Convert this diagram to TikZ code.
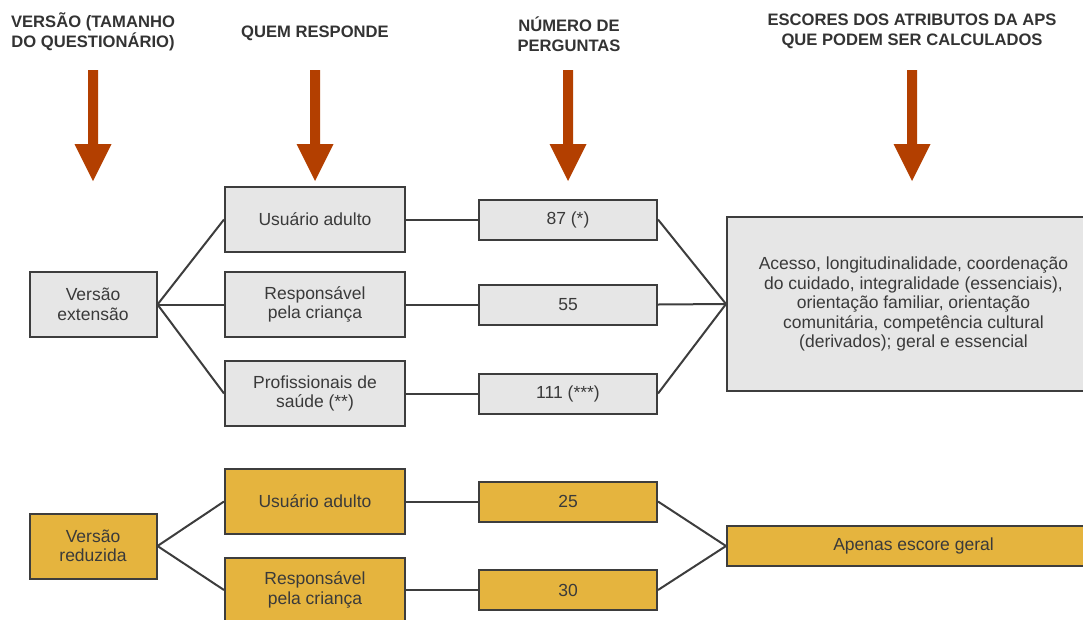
\documentclass[tikz,border=0pt]{standalone}
\usepackage{fontspec}
\setmainfont{Liberation Sans}
\definecolor{boxgray}{HTML}{E6E6E6}
\definecolor{boxyellow}{HTML}{E5B43E}
\definecolor{edgecol}{HTML}{3D3D3D}
\definecolor{rust}{HTML}{B33F00}
\definecolor{txtcol}{HTML}{3A3A3A}
\definecolor{headcol}{HTML}{333333}
\begin{document}
\begin{tikzpicture}[x=1pt,y=-1pt,
  basebox/.style={draw=edgecol, line width=2pt, text=txtcol, align=center, inner sep=0pt,
    font=\fontsize{17.5}{19.5}\selectfont},
  gbox/.style={basebox, fill=boxgray},
  ybox/.style={basebox, fill=boxyellow},
  vbox/.style={minimum width=127pt, minimum height=65pt},
  rbox/.style={minimum width=180pt, minimum height=65pt},
  nbox/.style={minimum width=178pt, minimum height=40pt},
  heading/.style={text=headcol, align=center, font=\bfseries\fontsize{16.6}{20}\selectfont},
  link/.style={draw=edgecol, line width=2pt},
  bigarrow/.style={fill=rust}
]
\useasboundingbox (0,0) rectangle (1083,619);
\clip (0,0) rectangle (1083,619);

% headings
\node[heading] (h1) at (93,32) {VERSÃO (TAMANHO\\DO QUESTIONÁRIO)};
\node[heading] (h2) at (315,33) {QUEM RESPONDE};
\node[heading] (h3) at (569,34) {NÚMERO DE\\PERGUNTAS};
\node[heading] (h4) at (912,31) {ESCORES DOS ATRIBUTOS DA APS\\QUE PODEM SER CALCULADOS};

% arrows
\foreach \ax in {93,315,568,912}{
  \fill[bigarrow] (\ax-5,70) -- (\ax+5,70) -- (\ax+5,144) -- (\ax+18.5,144) -- (\ax,181)
    -- (\ax-18.5,144) -- (\ax-5,144) -- cycle;
}

% extended version
\node[gbox,vbox] (vext) at (93,304.5) {Versão\\extensão};
\node[gbox,rbox] (u1) at (315,219.5) {Usuário adulto};
\node[gbox,rbox] (r1) at (315,304.5) {Responsável\\pela criança};
\node[gbox,rbox] (p1) at (315,393.5) {Profissionais de\\saúde (**)};
\node[gbox,nbox] (n87) at (568,219.5) {87 (*)};
\node[gbox,nbox] (n55) at (568,304.5) {55};
\node[gbox,nbox] (n111) at (568,393.5) {111 (***)};
\node[gbox,minimum width=373pt,minimum height=174pt] (big) at (913.5,304)
  {\raisebox{4pt}{\parbox{360pt}{\centering Acesso, longitudinalidade, coordenação\\do cuidado, integralidade (essenciais),\\orientação familiar, orientação\\comunitária, competência cultural\\(derivados); geral e essencial}}};

% reduced version
\node[ybox,vbox] (vred) at (93,546) {Versão\\reduzida};
\node[ybox,rbox] (u2) at (315,501.5) {Usuário adulto};
\node[ybox,rbox] (r2) at (315,590) {Responsável\\pela criança};
\node[ybox,nbox] (n25) at (568,501.5) {25};
\node[ybox,nbox] (n30) at (568,590) {30};
\node[ybox,minimum width=373pt,minimum height=40pt] (geral) at (913.5,546) {Apenas escore geral};

% connectors
\draw[link] (vext.east) -- (u1.west);
\draw[link] (vext.east) -- (r1.west);
\draw[link] (vext.east) -- (p1.west);
\draw[link] (u1.east) -- (n87.west);
\draw[link] (r1.east) -- (n55.west);
\draw[link] (p1.east) -- (n111.west);
\draw[link] (n87.east) -- (big.west);
\draw[link] (n55.east) -- (big.west);
\draw[link] (n111.east) -- (big.west);

\draw[link] (vred.east) -- (u2.west);
\draw[link] (vred.east) -- (r2.west);
\draw[link] (u2.east) -- (n25.west);
\draw[link] (r2.east) -- (n30.west);
\draw[link] (n25.east) -- (geral.west);
\draw[link] (n30.east) -- (geral.west);
\end{tikzpicture}
\end{document}
